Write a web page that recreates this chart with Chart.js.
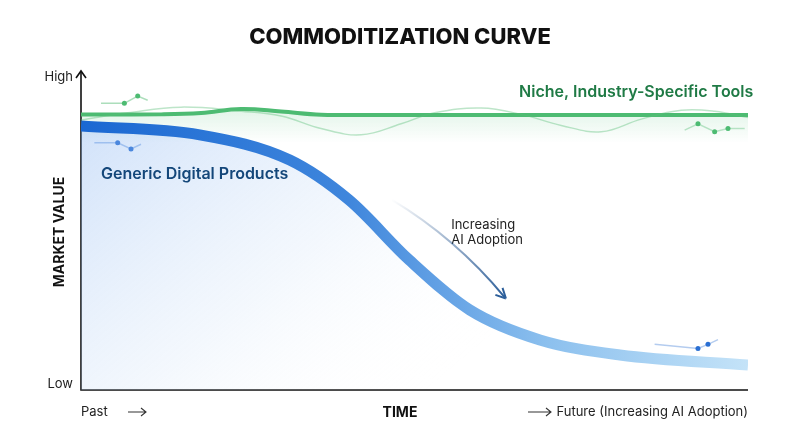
<!DOCTYPE html>
<html>
<head>
<meta charset="utf-8">
<script src="https://cdn.jsdelivr.net/npm/chart.js@4"></script>
<style>
  body { margin: 0; background: #fff; }
  #wrap { width: 800px; height: 447px; }
</style>
</head>
<body>
<div id="wrap"><canvas id="myChart"></canvas></div>
<script>
// time runs 0..100 left to right, market value 0..100 (Low..High)
const genericX = [0, 17.8, 31.3, 40.2, 49.2, 58.3, 68.8, 80.8, 100];
const genericY = [83.8, 81, 73, 60.3, 41.3, 25.4, 15.9, 11.1, 7.9];

const nicheX = [0, 12, 18, 24, 30, 36, 45, 60, 75, 90, 100];
const nicheY = [87.5, 87.5, 87.9, 89.2, 88.4, 87.4, 87.3, 87.3, 87.3, 87.3, 87.3];

const waveX = [0, 7, 15, 24, 30, 36, 42, 48, 53, 60, 66, 72, 78, 84, 90, 95, 100];
const waveY = [85.7, 88, 89.8, 88.5, 87, 83, 81, 84.5, 88, 89.5, 87.5, 84, 82, 86, 88.8, 88.5, 86.5];

const yTickLabels = ["Low", "High"];
const chartTitle = "COMMODITIZATION CURVE";

function pts(xs, ys) { return xs.map((x, i) => ({x: x, y: ys[i]})); }

const ctx = document.getElementById("myChart").getContext("2d");

const decor = {
  id: "decor",
  beforeDatasetsDraw(chart) {
    const c = chart.ctx, a = chart.chartArea;
    c.save();
    c.strokeStyle = "#111"; c.lineWidth = 1.6;
    c.beginPath();
    c.moveTo(a.left, a.top - 4); c.lineTo(a.left, a.bottom); c.lineTo(a.right, a.bottom);
    c.stroke();
    c.beginPath();
    c.moveTo(a.left - 5, a.top + 3); c.lineTo(a.left, a.top - 4); c.lineTo(a.left + 5, a.top + 3);
    c.stroke();
    c.restore();
  },
  afterDatasetsDraw(chart) {
    const c = chart.ctx, a = chart.chartArea;
    const sx = chart.scales.x, sy = chart.scales.y;
    c.save();
    c.textBaseline = "middle";
    c.fillStyle = "#111";
    c.font = "800 22px Inter, 'DejaVu Sans', sans-serif";
    c.textAlign = "center";
    c.fillText(chartTitle, 400, 37);
    c.font = "13px Inter, sans-serif";
    c.textAlign = "right";
    c.fillStyle = "#222";
    c.fillText(yTickLabels[1], a.left - 8, a.top + 2);
    c.fillText(yTickLabels[0], a.left - 8, a.bottom - 6);
    c.font = "bold 14px Inter, sans-serif";
    c.fillStyle = "#111";
    c.textAlign = "center";
    c.fillText("TIME", 400, 413);
    c.save();
    c.translate(60, 232); c.rotate(-Math.PI / 2);
    c.fillText("MARKET VALUE", 0, 0);
    c.restore();
    c.font = "13px Inter, sans-serif";
    c.fillStyle = "#222";
    c.textAlign = "left";
    c.fillText("Past", 81, 412);
    c.textAlign = "right";
    c.fillText("Future (Increasing AI Adoption)", a.right, 412);
    c.strokeStyle = "#333"; c.lineWidth = 1.1;
    [[128, 146], [528, 551]].forEach(([x0, x1]) => {
      c.beginPath(); c.moveTo(x0, 412); c.lineTo(x1, 412);
      c.moveTo(x1 - 5, 408); c.lineTo(x1, 412); c.lineTo(x1 - 5, 416); c.stroke();
    });
    c.font = "600 16px Inter, sans-serif";
    c.textAlign = "left";
    c.fillStyle = "#14477a";
    c.fillText("Generic Digital Products", sx.getPixelForValue(3), sy.getPixelForValue(68.5));
    c.fillStyle = "#1f7a45";
    c.textAlign = "right";
    c.fillText("Niche, Industry-Specific Tools", sx.getPixelForValue(100.8), sy.getPixelForValue(94.5));
    c.fillStyle = "#222";
    c.font = "13px Inter, sans-serif";
    c.textAlign = "left";
    c.fillText("Increasing", sx.getPixelForValue(55.5), sy.getPixelForValue(52.5));
    c.fillText("AI Adoption", sx.getPixelForValue(55.5), sy.getPixelForValue(47.5));
    const x0 = sx.getPixelForValue(46.5), y0 = sy.getPixelForValue(60.5);
    const x1 = sx.getPixelForValue(63.5), y1 = sy.getPixelForValue(29.5);
    const g = c.createLinearGradient(x0, y0, x1, y1);
    g.addColorStop(0, "rgba(60,100,150,0)");
    g.addColorStop(1, "#2d5f9a");
    c.strokeStyle = g; c.lineWidth = 2;
    c.beginPath();
    c.moveTo(x0, y0);
    c.quadraticCurveTo((x0 + x1) / 2 + 8, (y0 + y1) / 2 - 10, x1, y1);
    c.stroke();
    c.save();
    c.translate(x1, y1); c.rotate(Math.atan2(y1 - y0 + 10, x1 - x0 - 8));
    c.beginPath(); c.moveTo(2, 0); c.lineTo(-8, -5); c.moveTo(2, 0); c.lineTo(-8, 5);
    c.strokeStyle = "#2d5f9a"; c.stroke();
    c.restore();
    c.restore();
  }
};

function blueStroke(context) {
  const a = context.chart.chartArea;
  if (!a) return "#1f6fd6";
  const g = context.chart.ctx.createLinearGradient(a.left, 0, a.right, 0);
  g.addColorStop(0, "#1a68d2");
  g.addColorStop(0.4, "#3f86dc");
  g.addColorStop(0.7, "#8cc0ee");
  g.addColorStop(1, "#c4e3f8");
  return g;
}
function blueFill(context) {
  const a = context.chart.chartArea;
  if (!a) return "rgba(0,0,0,0)";
  const g = context.chart.ctx.createLinearGradient(a.left, a.top, a.left + 300, a.bottom + 40);
  g.addColorStop(0, "rgba(120,170,240,0.40)");
  g.addColorStop(0.6, "rgba(190,215,245,0.18)");
  g.addColorStop(1, "rgba(255,255,255,0)");
  return g;
}
function greenFill(context) {
  const c = context.chart, a = c.chartArea;
  if (!a) return "rgba(0,0,0,0)";
  const y = c.scales.y.getPixelForValue(88);
  const g = c.ctx.createLinearGradient(0, y, 0, y + 30);
  g.addColorStop(0, "rgba(80,190,120,0.15)");
  g.addColorStop(1, "rgba(80,190,120,0)");
  return g;
}

new Chart(ctx, {
  type: "line",
  data: {
    datasets: [
      {
        label: "Generic Digital Products",
        data: pts(genericX, genericY),
        borderColor: blueStroke,
        backgroundColor: blueFill,
        borderWidth: 11,
        borderCapStyle: "butt",
        fill: "origin",
        cubicInterpolationMode: "monotone",
        pointRadius: 0
      },
      {
        label: "wave",
        data: pts(waveX, waveY),
        borderColor: "rgba(90,190,120,0.4)",
        borderWidth: 1.5,
        tension: 0.4,
        fill: false,
        pointRadius: 0
      },
      {
        label: "Niche, Industry-Specific Tools",
        data: pts(nicheX, nicheY),
        borderColor: "#4dbb72",
        backgroundColor: greenFill,
        borderWidth: 4,
        fill: {value: 77},
        tension: 0.4,
        pointRadius: 0
      },
      {
        label: "spark-green",
        data: pts([3, 6.5, 8.5, 10], [91, 91, 93.3, 92]),
        borderColor: "rgba(90,190,120,0.5)", borderWidth: 1.5,
        pointRadius: [0, 2.5, 2.5, 0], pointBackgroundColor: "#4dbb72", pointBorderWidth: 0,
        tension: 0, fill: false
      },
      {
        label: "spark-blue",
        data: pts([2, 5.5, 7.5, 9], [78.5, 78.5, 76.5, 78]),
        borderColor: "rgba(40,110,210,0.4)", borderWidth: 1.5,
        pointRadius: [0, 2.5, 2.5, 0], pointBackgroundColor: "#2a6fd3", pointBorderWidth: 0,
        tension: 0, fill: false
      },
      {
        label: "spark-green-right",
        data: pts([90.5, 92.5, 95, 97, 99.5], [82.5, 84.5, 82, 83, 83]),
        borderColor: "rgba(90,190,120,0.4)", borderWidth: 1.5,
        pointRadius: [0, 2.5, 2.5, 2.5, 0], pointBackgroundColor: "#4dbb72", pointBorderWidth: 0,
        tension: 0, fill: false
      },
      {
        label: "spark-blue-right",
        data: pts([86, 92.5, 94, 95.5], [14.5, 13.2, 14.5, 16]),
        borderColor: "rgba(40,110,210,0.35)", borderWidth: 1.5,
        pointRadius: [0, 2.5, 2.5, 0], pointBackgroundColor: "#2a6fd3", pointBorderWidth: 0,
        tension: 0, fill: false
      }
    ]
  },
  options: {
    responsive: true,
    maintainAspectRatio: false,
    animation: false,
    layout: { padding: { left: 81, right: 52, top: 75, bottom: 57 } },
    plugins: { legend: { display: false }, tooltip: { enabled: false } },
    scales: {
      x: { type: "linear", min: 0, max: 100, display: false },
      y: { min: 0, max: 100, display: false }
    }
  },
  plugins: [decor]
});
</script>
</body>
</html>
